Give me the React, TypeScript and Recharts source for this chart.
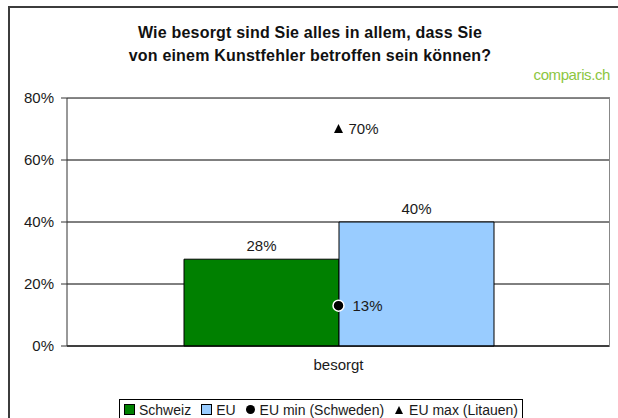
import React from "react";
import {
  ComposedChart,
  Bar,
  Scatter,
  XAxis,
  YAxis,
  CartesianGrid,
  LabelList,
} from "recharts";

const categories = ["besorgt"];
const schweiz = [28];
const eu = [40];
const euMin = [13];
const euMax = [70];
const yTicks = [0, 20, 40, 60, 80];

const data = categories.map((c, i) => ({
  category: c,
  schweiz: schweiz[i],
  eu: eu[i],
  euMin: euMin[i],
  euMax: euMax[i],
}));

const FONT = "'Liberation Sans', Arial, sans-serif";
const GREEN = "#008000";
const BLUE = "#99ccff";

const pct = (v: any) => `${v}%`;

const Dot = (props: any) => {
  const { cx, cy } = props;
  return <circle cx={cx} cy={cy} r={5.5} fill="#000" stroke="#fff" strokeWidth={1.5} />;
};

const Tri = (props: any) => {
  const { cx, cy } = props;
  return (
    <polygon
      points={`${cx},${cy - 5} ${cx - 4.5},${cy + 4} ${cx + 4.5},${cy + 4}`}
      fill="#000"
    />
  );
};

const rightLabel = (dx: number) => (props: any) => {
  const { x, y, width, height, value } = props;
  const cx = x + (width || 0) / 2;
  const cy = y + (height || 0) / 2;
  return (
    <text x={cx + dx} y={cy} dy="0.35em" fontSize={15} fill="#1a1a1a" fontFamily={FONT}>
      {pct(value)}
    </text>
  );
};

const LegendBox = () => (
  <div
    style={{
      position: "absolute",
      left: 119,
      top: 399,
      height: 19,
      padding: "0 4px",
      border: "1px solid #000",
      display: "flex",
      alignItems: "center",
      fontFamily: FONT,
      fontSize: 14,
      lineHeight: "16px",
      color: "#1a1a1a",
      background: "#fff",
      whiteSpace: "nowrap",
    }}
  >
    <span style={{ display: "inline-block", width: 9, height: 9, background: GREEN, border: "1px solid #000", marginRight: 4 }} />
    <span style={{ marginRight: 10 }}>Schweiz</span>
    <span style={{ display: "inline-block", width: 9, height: 9, background: BLUE, border: "1px solid #000", marginRight: 4 }} />
    <span style={{ marginRight: 10 }}>EU</span>
    <span style={{ display: "inline-block", width: 9, height: 9, borderRadius: "50%", background: "#000", marginRight: 5 }} />
    <span style={{ marginRight: 10 }}>EU min (Schweden)</span>
    <svg width={10} height={10} style={{ marginRight: 5 }}>
      <polygon points="5,1 1,9 9,9" fill="#000" />
    </svg>
    <span>EU max (Litauen)</span>
  </div>
);

export default function App() {
  return (
    <div
      style={{
        position: "absolute",
        left: 0,
        top: 0,
        width: 618,
        height: 418,
        overflow: "hidden",
        background: "#fff",
        fontFamily: FONT,
      }}
    >
      {/* outer frame */}
      <div
        style={{
          position: "absolute",
          left: 8,
          top: 6,
          width: 640,
          height: 440,
          border: "2px solid #3c3c3c",
        }}
      />
      <div
        style={{
          position: "absolute",
          left: 0,
          width: 620,
          top: 21,
          textAlign: "center",
          fontWeight: "bold",
          fontSize: 16,
          letterSpacing: 0.2,
          lineHeight: "23px",
          color: "#111",
        }}
      >
        Wie besorgt sind Sie alles in allem, dass Sie
        <br />
        von einem Kunstfehler betroffen sein können?
      </div>
      <div
        style={{
          position: "absolute",
          right: 8,
          top: 66,
          fontSize: 15,
          color: "#8cc63f",
          letterSpacing: -0.4,
        }}
      >
        comparis.ch
      </div>

      <div style={{ position: "absolute", left: 0, top: 0 }}>
        <ComposedChart
          width={618}
          height={418}
          data={data}
          margin={{ top: 98, right: 8, bottom: 42, left: 8 }}
          barGap={0}
        >
          <CartesianGrid vertical={false} stroke="#000" strokeWidth={1} />
          <XAxis
            dataKey="category"
            height={30}
            tickLine={false}
            tickSize={0}
            tickMargin={13}
            axisLine={{ stroke: "#000" }}
            tick={{ fill: "#1a1a1a", fontSize: 15, fontFamily: FONT }}
          />
          <YAxis
            width={59}
            domain={[0, 80]}
            ticks={yTicks}
            tickFormatter={pct}
            tickSize={6}
            tickMargin={7}
            axisLine={{ stroke: "#333" }}
            tickLine={{ stroke: "#333" }}
            tick={{ fill: "#1a1a1a", fontSize: 15, fontFamily: FONT }}
          />
          <Bar dataKey="schweiz" fill={GREEN} stroke="#000" strokeWidth={1} barSize={155} isAnimationActive={false}>
            <LabelList dataKey="schweiz" position="top" offset={8} formatter={pct} fill="#1a1a1a" fontSize={15} fontFamily={FONT} />
          </Bar>
          <Bar dataKey="eu" fill={BLUE} stroke="#000" strokeWidth={1} barSize={155} isAnimationActive={false}>
            <LabelList dataKey="eu" position="top" offset={8} formatter={pct} fill="#1a1a1a" fontSize={15} fontFamily={FONT} />
          </Bar>
          <Scatter dataKey="euMin" shape={<Dot />} isAnimationActive={false}>
            <LabelList dataKey="euMin" content={rightLabel(14)} />
          </Scatter>
          <Scatter dataKey="euMax" shape={<Tri />} isAnimationActive={false}>
            <LabelList dataKey="euMax" content={rightLabel(10)} />
          </Scatter>
        </ComposedChart>
      </div>

      {/* plot area border (top, right) */}
      <div
        style={{
          position: "absolute",
          left: 67,
          top: 97,
          width: 542,
          height: 249,
          borderTop: "1px solid #888",
          borderRight: "1px solid #888",
          pointerEvents: "none",
        }}
      />
      <LegendBox />
    </div>
  );
}
